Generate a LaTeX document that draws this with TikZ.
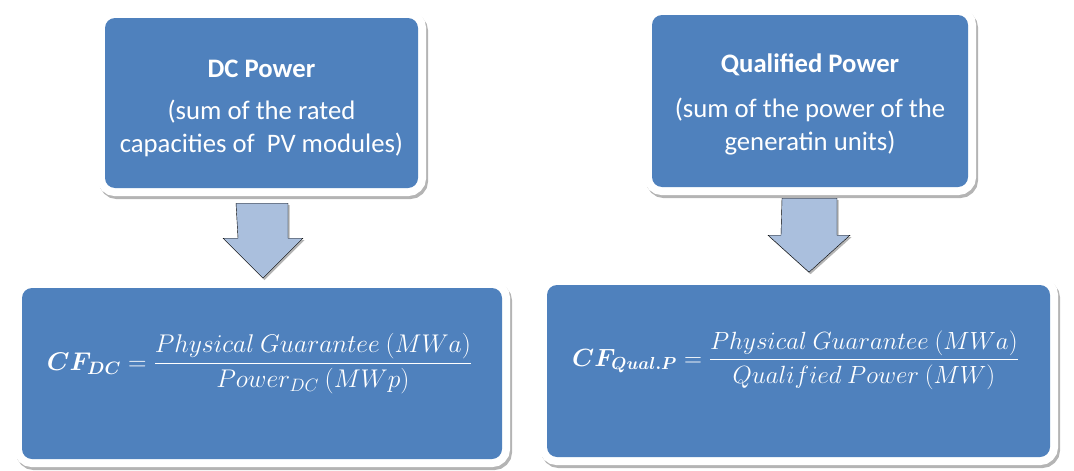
\RequirePackage{fix-cm}
\documentclass[tikz,border=0pt]{standalone}
\usepackage{amsmath}
\usepackage{bm}
\usepackage[no-math]{fontspec}
\setmainfont{Carlito}
\usetikzlibrary{calc}
\definecolor{boxblue}{HTML}{4F81BD}
\definecolor{arrowblue}{HTML}{AABFDD}
\definecolor{shadowgray}{HTML}{B4B4B4}
\begin{document}
\begin{tikzpicture}[x=1pt,y=-1pt,
  boxstyle/.style={rectangle, rounded corners=10pt, fill=boxblue, inner sep=0pt,
     preaction={draw=shadowgray, line width=16pt, transform canvas={xshift=2pt,yshift=-3pt}},
     preaction={draw=white, line width=16pt}},
  boxtext/.style={text=white, inner sep=0pt, align=center, font=\fontsize{26.7}{33}\selectfont},
  formula/.style={text=white, inner sep=0pt},
  blockarrow/.style={fill=arrowblue,
     preaction={fill=shadowgray, transform canvas={xshift=1.5pt,yshift=-2pt}}}]
\useasboundingbox (0,0) rectangle (1074,471);
% boxes
\node[boxstyle, minimum width=313pt, minimum height=170pt] (dc) at (261.5,103) {};
\node[boxtext] (dct) at ($(dc.center)+(0,5)$)
  {\textbf{DC Power}\\[9pt](sum of the rated\\capacities of~ PV modules)};
\node[boxstyle, minimum width=316pt, minimum height=172pt] (qp) at (810,101) {};
\node[boxtext] (qpt) at ($(qp.center)+(0,3.5)$)
  {\textbf{Qualified Power}\\[12pt](sum of the power of the\\generatin units)};
\node[boxstyle, minimum width=480pt, minimum height=171pt] (cfdc) at (262,373.5) {};
\node[boxstyle, minimum width=503pt, minimum height=172pt] (cfqp) at (798.5,371) {};
% formulas
\node[formula, anchor=base, font=\fontsize{25.6}{30}\selectfont] (fdc) at (259.5,370.3)
  {$\bm{CF}_{\bm{DC}}=\dfrac{Physical\ Guarantee\ (MWa)}{Power_{DC}\ (MWp)}$};
\node[formula, anchor=base, font=\fontsize{24.9}{30}\selectfont] (fqp) at (795.5,366.2)
  {$\bm{CF}_{\bm{Qual.P}}=\dfrac{Physical\ Guarantee\ (MWa)}{Qualified\ Power\ (MW)}$};
% block arrows
\coordinate (a1) at ($(dc.south)+(0.5,15)$);
\coordinate (a2) at ($(qp.south)+(-0.5,11)$);
\draw[blockarrow] (a1) ++(-26,0) -- ++(52,0) -- ++(0,35) -- ++(15,0) -- ++(-40,40) -- ++(-40,-40) -- ++(15,0) -- cycle;
\draw[blockarrow] (a2) ++(-27.5,0) -- ++(55,0) -- ++(0,37) -- ++(13,0) -- ++(-41,37) -- ++(-41,-37) -- ++(13,0) -- cycle;
\end{tikzpicture}
\end{document}
